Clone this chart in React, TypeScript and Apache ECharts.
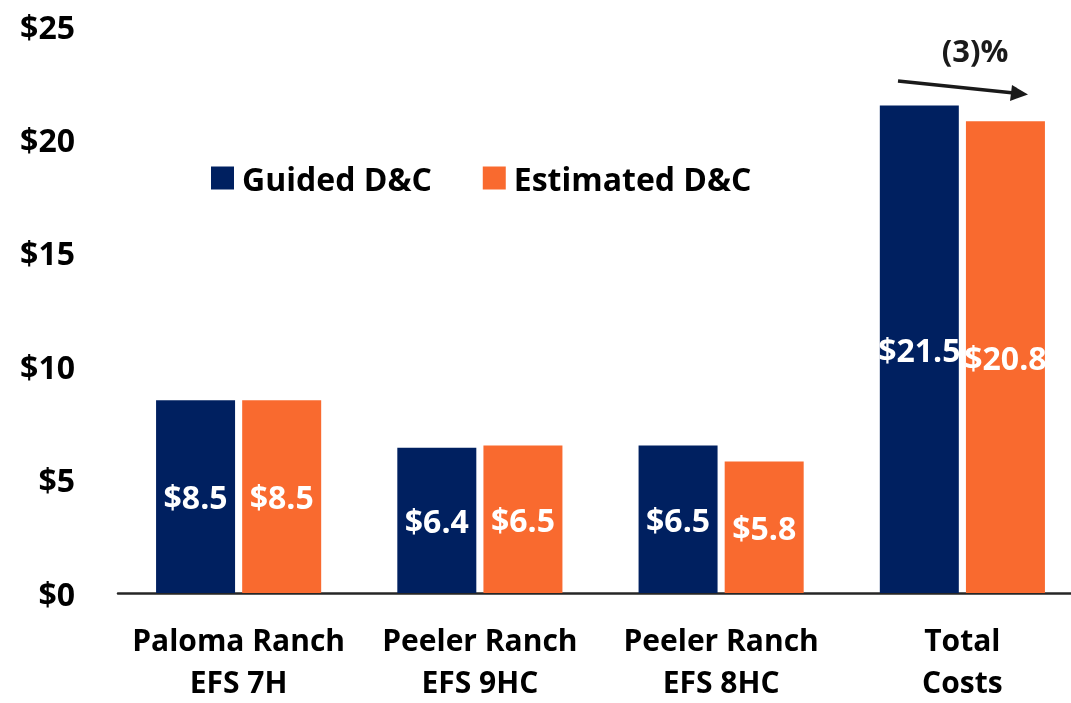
import React, { useEffect, useRef } from "react";
import * as echarts from "echarts";

const categories = ["Paloma Ranch\nEFS 7H", "Peeler Ranch\nEFS 9HC", "Peeler Ranch\nEFS 8HC", "Total\nCosts"];
const guided = [8.5, 6.4, 6.5, 21.5];
const estimated = [8.5, 6.5, 5.8, 20.8];
const seriesNames = ["Guided D&C", "Estimated D&C"];
const yTicks = [0, 5, 10, 15, 20, 25];
const changeLabel = "(3)%";

const FONT = "Open Sans";
const NAVY = "#002060";
const ORANGE = "#F96A2F";

export default function App() {
  const ref = useRef<HTMLDivElement>(null);
  useEffect(() => {
    if (!ref.current) return;
    const chart = echarts.init(ref.current, undefined, { renderer: "svg" });
    const labelStyle = {
      show: true,
      position: "inside" as const,
      color: "#ffffff",
      fontFamily: FONT,
      fontWeight: "bold" as const,
      fontSize: 32,
      formatter: (p: any) => "$" + p.value.toFixed(1),
    };
    chart.setOption({
      animation: false,
      textStyle: { fontFamily: FONT },
      grid: {
        left: 118,
        width: 965,
        top: 26,
        height: 567,
        containLabel: false,
        outerBoundsMode: "none",
      },
      legend: {
        data: seriesNames,
        left: 211,
        top: 162,
        padding: 0,
        itemWidth: 23,
        itemHeight: 23,
        itemGap: 51,
        icon: "rect",
        textStyle: {
          fontFamily: FONT,
          fontWeight: "bold",
          fontSize: 32,
          color: "#000",
          padding: [0, 0, 0, 3],
        },
      },
      xAxis: {
        type: "category",
        data: categories,
        axisLine: { lineStyle: { color: "#262626", width: 2.5 } },
        axisTick: { show: false },
        axisLabel: {
          fontFamily: FONT,
          fontWeight: "bold",
          fontSize: 30,
          color: "#000",
          lineHeight: 42,
          margin: 25,
          interval: 0,
        },
      },
      yAxis: {
        type: "value",
        min: yTicks[0],
        max: yTicks[yTicks.length - 1],
        interval: 5,
        splitLine: { show: false },
        axisLine: { show: false },
        axisTick: { show: false },
        axisLabel: {
          fontFamily: FONT,
          fontWeight: "bold",
          fontSize: 32,
          color: "#000",
          margin: 43,
          formatter: (v: number) => "$" + v,
        },
      },
      series: [
        {
          name: seriesNames[0],
          type: "bar",
          data: guided,
          barWidth: 79,
          barGap: "9%",
          itemStyle: { color: NAVY },
          label: labelStyle,
        },
        {
          name: seriesNames[1],
          type: "bar",
          data: estimated,
          barWidth: 79,
          barGap: "9%",
          itemStyle: { color: ORANGE },
          label: labelStyle,
        },
      ],
      graphic: [
        {
          type: "text",
          x: 975,
          y: 50,
          style: {
            text: changeLabel,
            fontFamily: FONT,
            fontWeight: "bold",
            fontSize: 31,
            fill: "#1a1a1a",
            align: "center",
            verticalAlign: "middle",
          },
        },
        {
          type: "line",
          shape: { x1: 898, y1: 81, x2: 1014, y2: 93 },
          style: { stroke: "#1a1a1a", lineWidth: 3.5 },
        },
        {
          type: "polygon",
          shape: { points: [[1028, 94.5], [1012, 85], [1010, 101]] },
          style: { fill: "#1a1a1a" },
        },
      ],
    });
    return () => chart.dispose();
  }, []);
  return <div ref={ref} style={{ position: "fixed", left: 0, top: 0, width: 1071, height: 703 }} />;
}
